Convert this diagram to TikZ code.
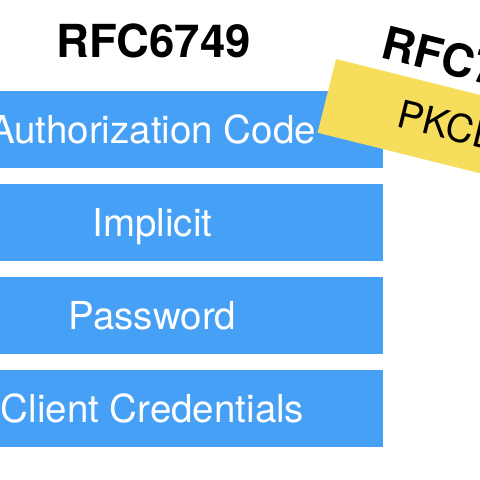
\documentclass[tikz,border=0pt]{standalone}
\usepackage{fontspec}
\setmainfont{TeX Gyre Heros}
\definecolor{flowblue}{RGB}{70,160,245}
\definecolor{pkceyellow}{RGB}{246,221,91}
\tikzset{
  flowbox/.style={fill=flowblue, draw=none, minimum width=461pt, minimum height=77pt,
    inner sep=0pt, text=white, font=\fontsize{38.5}{38.5}\selectfont, text height=28pt, text depth=0pt},
  rfctitle/.style={font=\bfseries\fontsize{45.5}{45.5}\selectfont, text=black, inner sep=0pt},
  pkcelabel/.style={font=\fontsize{38.5}{38.5}\selectfont, text=black, inner sep=0pt}
}
\begin{document}
\begin{tikzpicture}[x=1pt,y=-1pt]
\useasboundingbox (0,0) rectangle (480,480);
\clip (0,0) rectangle (480,480);
\fill[white] (0,0) rectangle (480,480);
% left column
\node[rfctitle, anchor=base] (t1) at (153.5,57) {RFC6749};
\node[flowbox] (ac) at (152.5,129) {Authorization Code};
\node[flowbox] (im) at (152.5,222.5) {Implicit};
\node[flowbox] (pw) at (152.5,315.5) {Password};
\node[flowbox] (cc) at (152.5,408.5) {Client Credentials};
% rotated column
\begin{scope}[shift={(336,59)}, rotate=-14]
  \fill[pkceyellow] (0,0) rectangle (420,76);
  \node[rfctitle, transform shape, anchor=base west] (t2) at (42,-12) {RFC7636};
  \node[pkcelabel, transform shape, anchor=base west] (pk) at (74,51) {PKCE};
\end{scope}
\end{tikzpicture}
\end{document}
